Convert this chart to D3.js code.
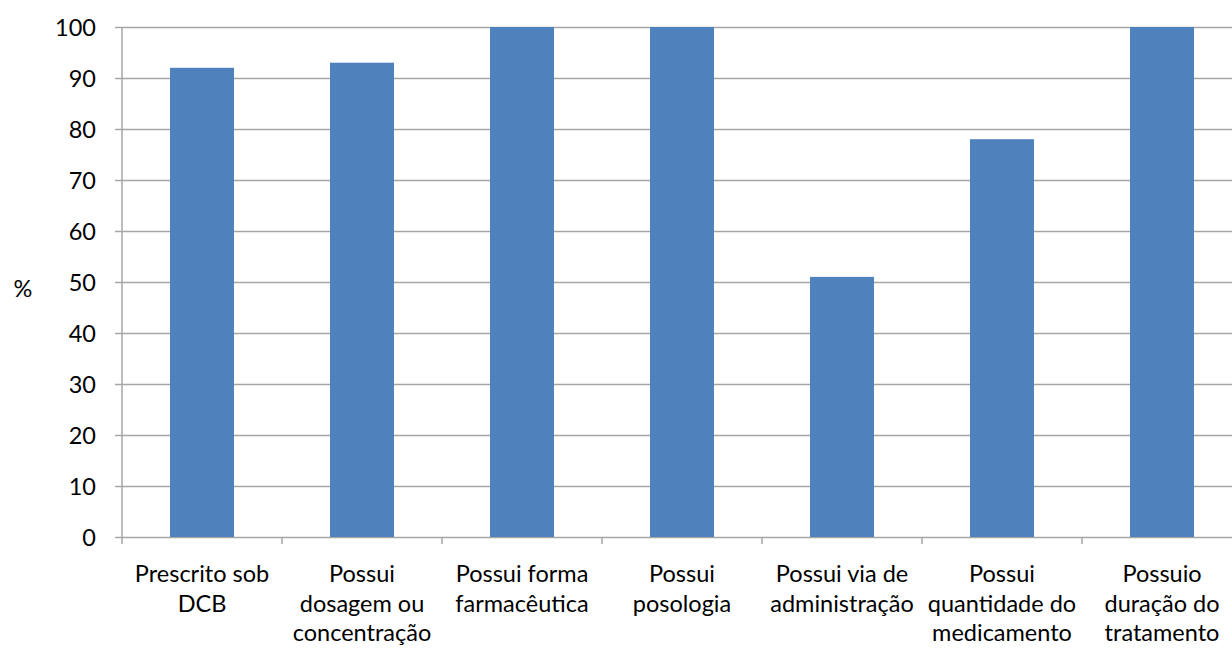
<!DOCTYPE html>
<html>
<head>
<meta charset="utf-8">
<script src="https://cdn.jsdelivr.net/npm/d3@7"></script>
<style>
  body { margin: 0; background: #fff; }
  svg { display: block; }
  text { font-family: Lato, "Open Sans", sans-serif; fill: #000; }
</style>
</head>
<body>
<svg id="chart" width="1232" height="648"></svg>
<script>
// Share of prescriptions meeting each requirement (%)
const categories = [
  ["Prescrito sob", "DCB"],
  ["Possui", "dosagem ou", "concentração"],
  ["Possui forma", "farmacêutica"],
  ["Possui", "posologia"],
  ["Possui via de", "administração"],
  ["Possui", "quantidade do", "medicamento"],
  ["Possuio", "duração do", "tratamento"]
];
const values = [92, 93, 100, 100, 51, 78, 100];
const yTicks = [0, 10, 20, 30, 40, 50, 60, 70, 80, 90, 100];
const yLabel = "%";

const svg = d3.select("#chart");
const plotLeft = 122, plotRight = 1242, plotTop = 27, plotBottom = 537;
const fontSize = "23.5px";

const x = d3.scaleBand()
  .domain(d3.range(categories.length))
  .range([plotLeft, plotRight])
  .paddingInner(0.6)
  .paddingOuter(0.3);

const y = d3.scaleLinear().domain([0, 100]).range([plotBottom, plotTop]);

// Horizontal gridlines with tick labels
const yAxis = svg.append("g")
  .attr("transform", `translate(${plotLeft},0)`)
  .call(d3.axisLeft(y).tickValues(yTicks).tickSize(-(plotRight - plotLeft)).tickSizeOuter(0).tickPadding(26));
yAxis.select(".domain").remove();
yAxis.selectAll(".tick line")
  .attr("x1", -7)
  .attr("stroke", "#a6a6a6")
  .attr("stroke-width", 1.5);
yAxis.selectAll(".tick text")
  .style("font-size", fontSize)
  .attr("dy", "0.35em");

// Vertical axis line
svg.append("line")
  .attr("x1", plotLeft).attr("x2", plotLeft)
  .attr("y1", plotTop).attr("y2", plotBottom + 7)
  .attr("stroke", "#a6a6a6").attr("stroke-width", 1.5);

// Category boundary ticks on the x axis
const bounds = d3.range(categories.length + 1).map(i => plotLeft + i * x.step());
svg.append("g").selectAll("line").data(bounds.slice(1)).join("line")
  .attr("x1", d => d).attr("x2", d => d)
  .attr("y1", plotBottom).attr("y2", plotBottom + 7)
  .attr("stroke", "#a6a6a6").attr("stroke-width", 1.5);

// Bars
svg.append("g").selectAll("rect").data(values).join("rect")
  .attr("x", (d, i) => x(i))
  .attr("width", x.bandwidth())
  .attr("y", d => y(d))
  .attr("height", d => y(0) - y(d))
  .attr("fill", "#4f81bd");

// Category labels (multi-line)
const labels = svg.append("g").selectAll("text").data(categories).join("text")
  .attr("text-anchor", "middle")
  .style("font-size", fontSize)
  .attr("transform", (d, i) => `translate(${x(i) + x.bandwidth() / 2},582)`);
labels.selectAll("tspan").data(d => d).join("tspan")
  .attr("x", 0)
  .attr("y", (d, j) => j * 29.5)
  .text(d => d);

// Y-axis title
svg.append("text")
  .attr("x", 23).attr("y", 289)
  .attr("text-anchor", "middle")
  .attr("dy", "0.35em")
  .style("font-size", fontSize)
  .text(yLabel);
</script>
</body>
</html>
